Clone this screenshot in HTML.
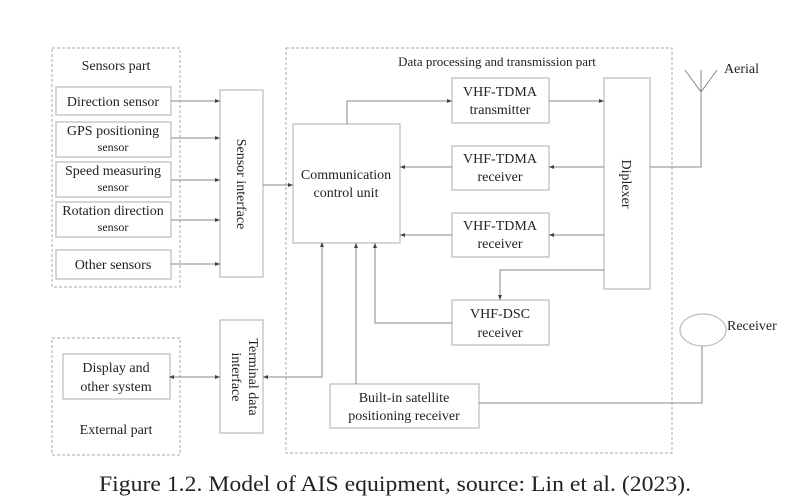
<!DOCTYPE html>
<html><head><meta charset="utf-8"><style>
html,body{margin:0;padding:0;background:#fff;}
svg{display:block;}
text{font-family:"Liberation Serif",serif;fill:#222;}
</style></head><body>
<svg width="791" height="498" viewBox="0 0 791 498" xmlns="http://www.w3.org/2000/svg">
<defs>
<marker id="a" markerWidth="6" markerHeight="6" refX="5" refY="3" orient="auto" markerUnits="userSpaceOnUse"><path d="M0,1 L5,3 L0,5 z" fill="#444"/></marker>
<marker id="b" markerWidth="6" markerHeight="6" refX="1" refY="3" orient="auto" markerUnits="userSpaceOnUse"><path d="M5,1 L0,3 L5,5 z" fill="#444"/></marker>
</defs>
<g fill="none" stroke="#bbb" stroke-width="1.2">
<rect x="52" y="48" width="128" height="239" stroke-dasharray="3,2"/>
<rect x="52" y="338" width="128" height="117" stroke-dasharray="3,2"/>
<rect x="286" y="48" width="386" height="405" stroke-dasharray="3,2"/>
<rect x="56" y="87" width="115" height="28"/>
<rect x="56" y="122" width="115" height="35"/>
<rect x="56" y="162" width="115" height="35"/>
<rect x="56" y="202" width="115" height="35"/>
<rect x="56" y="250" width="115" height="29"/>
<rect x="220" y="90" width="43" height="187"/>
<rect x="63" y="354" width="107" height="45"/>
<rect x="220" y="320" width="43" height="113"/>
<rect x="293" y="124" width="107" height="119"/>
<rect x="452" y="78" width="97" height="45"/>
<rect x="452" y="146" width="97" height="44"/>
<rect x="452" y="213" width="97" height="44"/>
<rect x="452" y="300" width="97" height="45"/>
<rect x="604" y="78" width="46" height="211"/>
<rect x="330" y="384" width="149" height="44"/>
<ellipse cx="703" cy="330" rx="23" ry="16"/>
</g>
<g fill="none" stroke="#888" stroke-width="1">
<line x1="171" y1="101" x2="220" y2="101" marker-end="url(#a)"/>
<line x1="171" y1="138" x2="220" y2="138" marker-end="url(#a)"/>
<line x1="171" y1="180" x2="220" y2="180" marker-end="url(#a)"/>
<line x1="171" y1="220" x2="220" y2="220" marker-end="url(#a)"/>
<line x1="171" y1="264" x2="220" y2="264" marker-end="url(#a)"/>
<line x1="263" y1="185" x2="293" y2="185" marker-end="url(#a)"/>
<line x1="170" y1="377" x2="220" y2="377" marker-start="url(#b)" marker-end="url(#a)"/>
<polyline points="322,243 322,377 263,377" marker-start="url(#b)" marker-end="url(#a)"/>
<polyline points="347,124 347,101 452,101" marker-end="url(#a)"/>
<line x1="549" y1="101" x2="604" y2="101" marker-end="url(#a)"/>
<line x1="604" y1="167" x2="549" y2="167" marker-end="url(#a)"/>
<line x1="452" y1="167" x2="400" y2="167" marker-end="url(#a)"/>
<line x1="604" y1="235" x2="549" y2="235" marker-end="url(#a)"/>
<line x1="452" y1="235" x2="400" y2="235" marker-end="url(#a)"/>
<polyline points="604,270 500,270 500,300" marker-end="url(#a)"/>
<polyline points="452,323 375,323 375,243" marker-end="url(#a)"/>
<line x1="356" y1="384" x2="356" y2="243" marker-end="url(#a)"/>
<polyline points="479,403 702,403 702,346"/>
<polyline points="650,167 701,167 701,70"/>
<polyline points="685,70 701,92 717,70"/>
</g>
<g font-size="14" text-anchor="middle">
<text x="116" y="70">Sensors part</text>
<text x="113" y="106">Direction sensor</text>
<text x="113" y="135">GPS positioning</text>
<text x="113" y="151" font-size="12">sensor</text>
<text x="113" y="175">Speed measuring</text>
<text x="113" y="191" font-size="12">sensor</text>
<text x="113" y="215">Rotation direction</text>
<text x="113" y="231" font-size="12">sensor</text>
<text x="113" y="269">Other sensors</text>
<text x="116" y="372">Display and</text>
<text x="116" y="391">other system</text>
<text x="116" y="434">External part</text>
<text x="497" y="66" font-size="13">Data processing and transmission part</text>
<text x="346" y="179">Communication</text>
<text x="346" y="197">control unit</text>
<text x="500" y="96">VHF-TDMA</text>
<text x="500" y="114">transmitter</text>
<text x="500" y="163">VHF-TDMA</text>
<text x="500" y="181">receiver</text>
<text x="500" y="230">VHF-TDMA</text>
<text x="500" y="248">receiver</text>
<text x="500" y="318">VHF-DSC</text>
<text x="500" y="337">receiver</text>
<text x="404" y="402">Built-in satellite</text>
<text x="404" y="420">positioning receiver</text>
<text transform="translate(237,184) rotate(90)">Sensor interface</text>
<text transform="translate(249,377) rotate(90)">Terminal data</text>
<text transform="translate(232,377) rotate(90)">interface</text>
<text transform="translate(622,184) rotate(90)">Diplexer</text>
</g>
<text x="724" y="73" font-size="14">Aerial</text>
<text x="727" y="330" font-size="14">Receiver</text>
<text x="99" y="491" font-size="22" textLength="592" lengthAdjust="spacingAndGlyphs">Figure 1.2. Model of AIS equipment, source: Lin et al. (2023).</text>
</svg>
</body></html>
